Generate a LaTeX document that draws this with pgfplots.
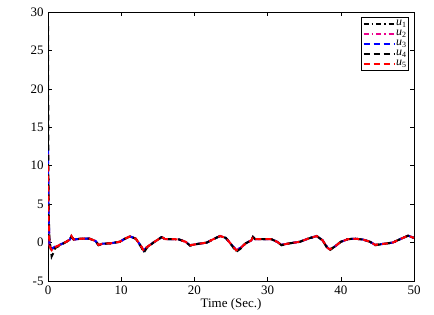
\documentclass[border=0pt]{standalone}
\usepackage{pgfplots}
\pgfplotsset{compat=1.18}
\usepackage{fontspec}
\setmainfont{Liberation Serif}
\pgfplotstableread{
t u
0.0 10
0.08 3
0.2 -0.4
0.5 -1.0
1.0 -0.6
1.6 -0.3
2.5 0.1
3.0 0.4
3.2 0.85
3.5 0.4
4.5 0.5
5.7 0.5
6.5 0.2
6.9 -0.3
7.5 -0.15
8.5 -0.1
9.8 0.1
10.5 0.5
11.2 0.8
12.0 0.5
12.8 -0.6
13.1 -1.1
13.5 -0.6
14.4 0
15.2 0.5
15.5 0.75
16.0 0.45
17.1 0.45
17.9 0.4
18.8 0.1
19.4 -0.35
20.3 -0.2
21.7 0
22.5 0.4
23.5 0.85
24.3 0.6
25.0 -0.2
25.7 -1.0
26.3 -0.7
27.0 -0.1
27.8 0.3
28.0 0.75
28.3 0.45
29.5 0.45
30.5 0.45
31.3 0.1
31.9 -0.3
33.0 -0.1
34.4 0.1
35.5 0.5
36.7 0.85
37.5 0.3
38.2 -0.7
38.5 -0.9
39.2 -0.5
40.0 0.1
41.0 0.45
42.0 0.5
43.0 0.4
44.0 0.1
44.7 -0.3
46.0 -0.15
47.1 0
48.0 0.4
49.2 0.9
50 0.6
}\base
\pgfplotstableread{
t u
0.0 11.5
0.08 3.5
0.2 -0.3
0.5 -0.9
1.0 -0.6
1.6 -0.3
2.5 0.1
3.0 0.4
3.2 0.8
3.5 0.4
4.5 0.5
5.7 0.5
6.5 0.2
6.9 -0.3
7.5 -0.15
8.5 -0.1
9.8 0.1
10.5 0.5
11.2 0.8
12.0 0.5
12.8 -0.6
13.1 -1.0
13.5 -0.6
14.4 0
15.2 0.5
15.5 0.7
16.0 0.45
17.1 0.45
17.9 0.4
18.8 0.1
19.4 -0.35
20.3 -0.2
21.7 0
22.5 0.4
23.5 0.85
24.3 0.6
25.0 -0.2
25.7 -0.95
26.3 -0.7
27.0 -0.1
27.8 0.3
28.0 0.7
28.3 0.45
29.5 0.45
30.5 0.45
31.3 0.1
31.9 -0.3
33.0 -0.1
34.4 0.1
35.5 0.5
36.7 0.85
37.5 0.3
38.2 -0.7
38.5 -0.85
39.2 -0.5
40.0 0.1
41.0 0.45
42.0 0.5
43.0 0.4
44.0 0.1
44.7 -0.3
46.0 -0.15
47.1 0
48.0 0.4
49.2 0.9
50 0.6
}\utwo
\pgfplotstableread{
t u
0.0 12.3
0.08 4
0.2 -0.3
0.5 -0.8
1.0 -0.5
1.6 -0.3
2.5 0.1
3.0 0.4
3.2 0.8
3.5 0.4
4.5 0.5
5.7 0.5
6.5 0.2
6.9 -0.3
7.5 -0.15
8.5 -0.1
9.8 0.1
10.5 0.5
11.2 0.8
12.0 0.5
12.8 -0.6
13.1 -1.0
13.5 -0.6
14.4 0
15.2 0.5
15.5 0.7
16.0 0.45
17.1 0.45
17.9 0.4
18.8 0.1
19.4 -0.35
20.3 -0.2
21.7 0
22.5 0.4
23.5 0.85
24.3 0.6
25.0 -0.2
25.7 -0.95
26.3 -0.7
27.0 -0.1
27.8 0.3
28.0 0.7
28.3 0.45
29.5 0.45
30.5 0.45
31.3 0.1
31.9 -0.3
33.0 -0.1
34.4 0.1
35.5 0.5
36.7 0.85
37.5 0.3
38.2 -0.7
38.5 -0.85
39.2 -0.5
40.0 0.1
41.0 0.45
42.0 0.5
43.0 0.4
44.0 0.1
44.7 -0.3
46.0 -0.15
47.1 0
48.0 0.4
49.2 0.9
50 0.6
}\uthree
\pgfplotstableread{
t u
0.0 28.3
0.08 5
0.2 0.5
0.5 -1.8
0.8 -1.2
1.0 -0.7
1.6 -0.4
2.5 0.1
3.0 0.4
3.2 0.8
3.5 0.4
4.5 0.5
5.7 0.5
6.5 0.2
6.9 -0.35
7.5 -0.15
8.5 -0.1
9.8 0.1
10.5 0.5
11.2 0.8
12.0 0.5
12.8 -0.7
13.1 -1.3
13.5 -0.7
14.4 0
15.2 0.5
15.5 0.7
16.0 0.45
17.1 0.45
17.9 0.4
18.8 0.1
19.4 -0.4
20.3 -0.2
21.7 0
22.5 0.4
23.5 0.85
24.3 0.6
25.0 -0.2
25.7 -1.2
26.3 -0.8
27.0 -0.1
27.8 0.3
28.0 0.7
28.3 0.45
29.5 0.45
30.5 0.45
31.3 0.1
31.9 -0.35
33.0 -0.1
34.4 0.1
35.5 0.5
36.7 0.85
37.5 0.3
38.2 -0.8
38.5 -1.0
39.2 -0.5
40.0 0.1
41.0 0.45
42.0 0.5
43.0 0.4
44.0 0.1
44.7 -0.35
46.0 -0.15
47.1 0
48.0 0.4
49.2 0.9
50 0.6
}\ufour
\begin{document}
\begin{tikzpicture}
\fontsize{13}{15}\selectfont
\begin{axis}[
  scale only axis,
  width=366bp, height=269bp,
  xmin=0, xmax=50, ymin=-5, ymax=30,
  xtick={0,10,...,50}, ytick={-5,0,...,30},
  tick align=inside,
  major tick length=4bp,
  tick style={black, line width=0.5pt},
  axis line style={black, line width=0.8pt},
  /pgf/number format/assume math mode=true,
  ticklabel style={font=\fontsize{13}{15}\selectfont},
  xlabel={Time (Sec.)},
  xlabel style={font=\fontsize{13}{15}\selectfont, yshift=5bp},
  legend style={font=\fontsize{12}{12}\selectfont, draw=black, line width=0.8pt,
    inner sep=1.5pt, row sep=0pt, at={(0.986,0.982)}, anchor=north east,
    nodes={inner sep=0.3bp, text height=6.5bp, text depth=2.9bp}},
  legend cell align=left,
  legend image code/.code={\draw[#1, line width=2pt] (0cm,0cm) -- (1.1cm,0cm);},
]
\addplot[black, line width=2pt, dash pattern=on 5pt off 3pt on 1.5pt off 3pt] table[x=t,y=u] {\base};
\addlegendentry{\textit{u}\textsubscript{1}}
\addplot[magenta, line width=2pt, dash pattern=on 5pt off 3pt on 1.5pt off 3pt] table[x=t,y=u] {\utwo};
\addlegendentry{\textit{u}\textsubscript{2}}
\addplot[blue, line width=2pt, dash pattern=on 6pt off 4pt] table[x=t,y=u] {\uthree};
\addlegendentry{\textit{u}\textsubscript{3}}
\addplot[black, line width=2pt, dash pattern=on 6pt off 4pt] table[x=t,y=u] {\ufour};
\addlegendentry{\textit{u}\textsubscript{4}}
\addplot[red, line width=2pt, dash pattern=on 6pt off 4pt] table[x=t,y=u] {\base};
\addlegendentry{\textit{u}\textsubscript{5}}
\end{axis}
\path[use as bounding box] (-48bp,-34bp) rectangle (386bp,281bp);
\end{tikzpicture}
\end{document}
